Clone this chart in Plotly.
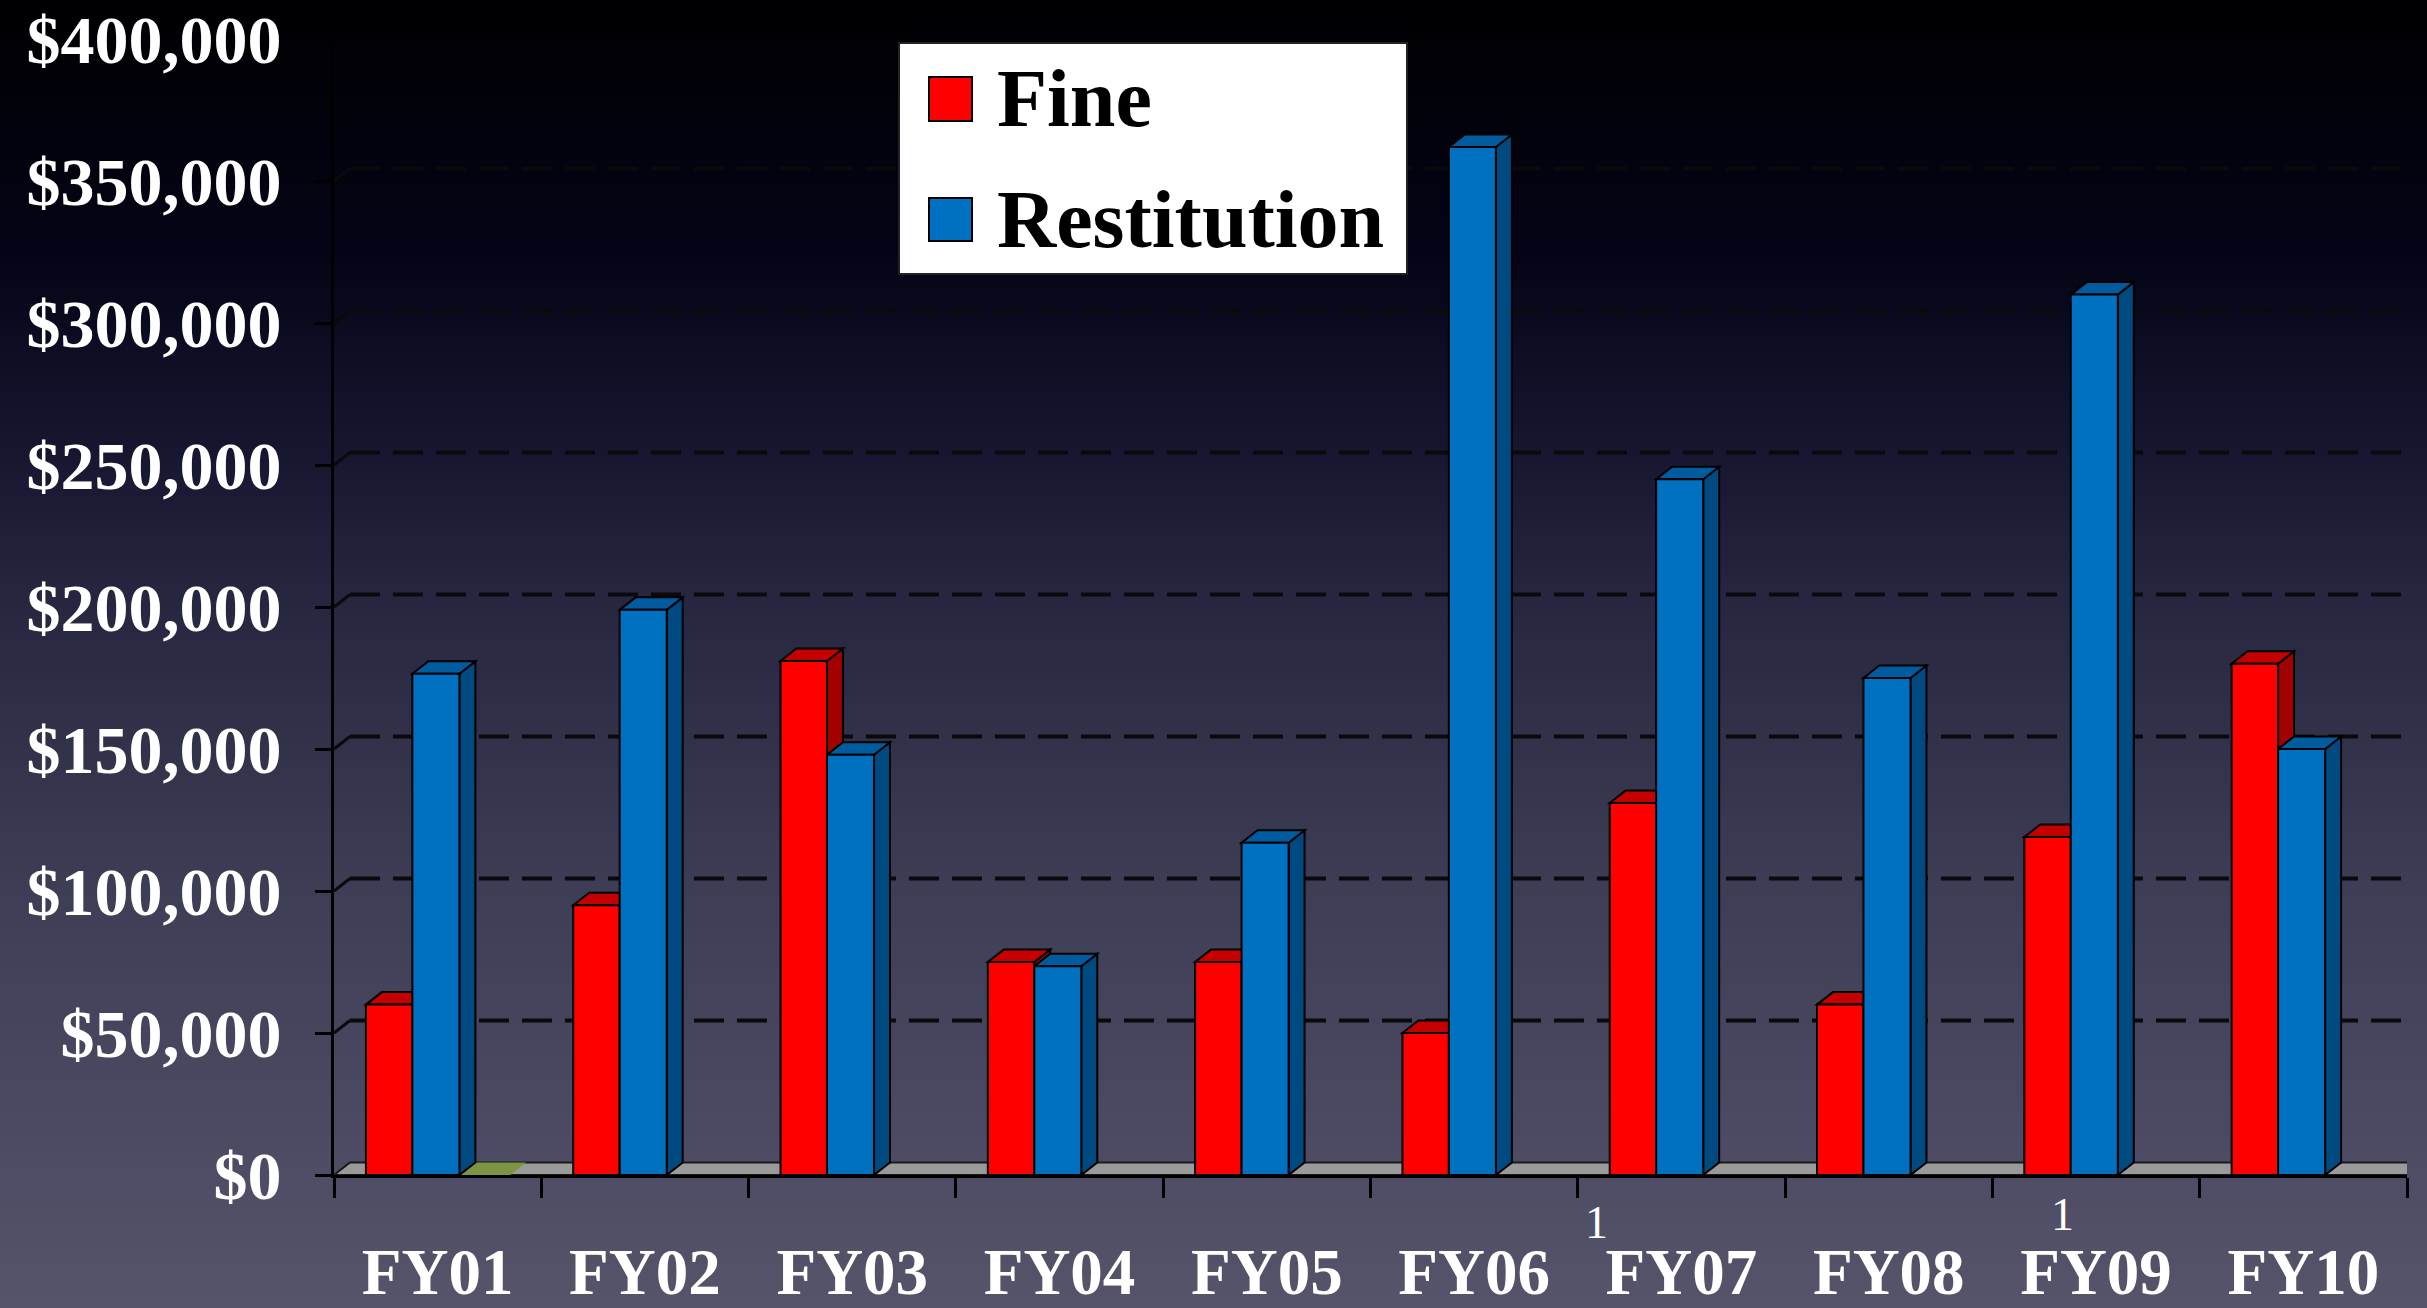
import plotly.graph_objects as go

# ---- data -------------------------------------------------------------
years = ["FY01", "FY02", "FY03", "FY04", "FY05", "FY06", "FY07", "FY08", "FY09", "FY10"]
fine = [60000, 95000, 181000, 75000, 75000, 50000, 131000, 60000, 119000, 180000]
restitution = [176500, 199000, 148000, 73500, 117000, 362000, 245000, 175000, 310000, 150000]
y_tick_values = [0, 50000, 100000, 150000, 200000, 250000, 300000, 350000, 400000]
y_tick_labels = ["$0", "$50,000", "$100,000", "$150,000", "$200,000",
                 "$250,000", "$300,000", "$350,000", "$400,000"]
footnotes = {"FY07": "1", "FY09": "1"}

# ---- geometry / style -------------------------------------------------
W, H = 2427, 1308
L, R, T, B = 334, 20, 39, 133
PW, PH = W - L - R, H - T - B
Y_MAX = 400000

DX = 0.077          # depth offset along x (category units)
DY = 4400           # depth offset along y (value units)
RED_OFF, RED_W = -0.346, 0.224
BLUE_OFF, BLUE_W = -0.122, 0.227

RED, RED_TOP, RED_SIDE = "#ff0000", "#c40000", "#a30000"
BLUE, BLUE_TOP, BLUE_SIDE = "#0070c0", "#005c9e", "#004a82"
FONT = "Liberation Serif"


def px_x(p):
    return (p - L) / PW


def px_y(p):
    return (H - B - p) / PH


def poly(pts):
    return "M " + " L ".join(f"{x},{y}" for x, y in pts) + " Z"


shapes = []

# background gradient (bands in paper coordinates)
stops = [(0, (0, 0, 2)), (250, (4, 4, 22)), (450, (22, 22, 48)), (600, (38, 38, 64)),
         (900, (62, 62, 86)), (1200, (79, 78, 102)), (1308, (85, 84, 106))]


def bg_color(py):
    for (y0, c0), (y1, c1) in zip(stops[:-1], stops[1:]):
        if y0 <= py <= y1:
            t = (py - y0) / (y1 - y0)
            return "rgb(%d,%d,%d)" % tuple(round(a + (b - a) * t) for a, b in zip(c0, c1))
    return "rgb(85,84,106)"


band = 8
for py in range(0, H, band):
    shapes.append(dict(type="rect", xref="paper", yref="paper", layer="below",
                       x0=px_x(-5), x1=px_x(W + 5), y0=px_y(py + band + 1), y1=px_y(py),
                       fillcolor=bg_color(py + band / 2), line=dict(width=0)))

n = len(years)
x_lo, x_hi = -0.5, n - 0.5

# back-wall dashed gridlines with their short wall connectors
for v in y_tick_values[1:-1]:
    shapes.append(dict(type="line", xref="x", yref="y", layer="below",
                       x0=x_lo + DX, x1=x_hi + DX, y0=v + DY, y1=v + DY,
                       line=dict(color="#0a0a0c", width=4, dash="30px,13px")))
    shapes.append(dict(type="line", xref="x", yref="y", layer="below",
                       x0=x_lo, x1=x_lo + DX, y0=v, y1=v + DY,
                       line=dict(color="#0a0a0c", width=3)))

# floor
shapes.append(dict(type="path", xref="x", yref="y", layer="between",
                   path=poly([(x_lo, 0), (x_hi, 0), (x_hi + DX, DY), (x_lo + DX, DY)]),
                   fillcolor="#9a9a9a", line=dict(color="#1a1a1a", width=2)))
# olive floor tint beside the first pair of bars
shapes.append(dict(type="path", xref="x", yref="y", layer="between",
                   path=poly([(0.105, 0), (0.35, 0), (0.35 + DX, DY), (0.105 + DX, DY)]),
                   fillcolor="#7d9444", line=dict(width=0)))

# 3-D top and side faces of the bars
for i in range(n):
    for val, off, wid, top_c, side_c in ((fine[i], RED_OFF, RED_W, RED_TOP, RED_SIDE),
                                         (restitution[i], BLUE_OFF, BLUE_W, BLUE_TOP, BLUE_SIDE)):
        x0, x1 = i + off, i + off + wid
        shapes.append(dict(type="path", xref="x", yref="y", layer="between",
                           path=poly([(x1, 0), (x1, val), (x1 + DX, val + DY), (x1 + DX, DY)]),
                           fillcolor=side_c, line=dict(color="black", width=2)))
        shapes.append(dict(type="path", xref="x", yref="y", layer="between",
                           path=poly([(x0, val), (x1, val), (x1 + DX, val + DY), (x0 + DX, val + DY)]),
                           fillcolor=top_c, line=dict(color="black", width=2)))

# legend box
shapes.append(dict(type="rect", xref="paper", yref="paper", layer="above",
                   x0=px_x(899), x1=px_x(1407), y0=px_y(274), y1=px_y(43),
                   fillcolor="white", line=dict(color="#222", width=2)))
for color, (ya, yb) in ((RED, (77, 121)), (BLUE, (198, 241))):
    shapes.append(dict(type="rect", xref="paper", yref="paper", layer="above",
                       x0=px_x(929), x1=px_x(972), y0=px_y(yb), y1=px_y(ya),
                       fillcolor=color, line=dict(color="black", width=2)))

annotations = [
    dict(text="Fine", xref="paper", yref="paper", x=px_x(995), y=px_y(98),
         xanchor="left", yanchor="middle", showarrow=False,
         font=dict(family=FONT, size=82, color="black", weight="bold")),
    dict(text="Restitution", xref="paper", yref="paper", x=px_x(995), y=px_y(219),
         xanchor="left", yanchor="middle", showarrow=False,
         font=dict(family=FONT, size=82, color="black", weight="bold")),
]

# footnote markers on the category labels
note_dx = {"FY07": -0.41, "FY09": -0.16}
note_py = {"FY07": 1222, "FY09": 1214}
for label, mark in footnotes.items():
    i = years.index(label)
    annotations.append(dict(text=mark, xref="x", yref="paper",
                            x=i + note_dx[label], y=px_y(note_py[label]),
                            xanchor="center", yanchor="middle", showarrow=False,
                            font=dict(family=FONT, size=46, color="white")))

fig = go.Figure()
fig.add_trace(go.Bar(name="Fine", x=list(range(n)), y=fine, offset=RED_OFF, width=RED_W,
                     marker=dict(color=RED, line=dict(color="black", width=2))))
fig.add_trace(go.Bar(name="Restitution", x=list(range(n)), y=restitution, offset=BLUE_OFF,
                     width=BLUE_W, marker=dict(color=BLUE, line=dict(color="black", width=2))))

fig.update_layout(
    width=W, height=H,
    margin=dict(l=L, r=R, t=T, b=B, autoexpand=False),
    paper_bgcolor="black", plot_bgcolor="rgba(0,0,0,0)",
    barmode="overlay", showlegend=False,
    shapes=shapes, annotations=annotations,
    xaxis=dict(range=[x_lo, x_hi], tickmode="array", tickvals=list(range(n)), ticktext=years,
               ticks="", showgrid=False, zeroline=False,
               showline=True, linecolor="black", linewidth=3,
               tickfont=dict(family=FONT, size=65, color="white", weight="bold"),
               ticklabelstandoff=38,
               minor=dict(tickmode="array", tickvals=[k - 0.5 for k in range(n + 1)],
                          ticks="outside", ticklen=20, tickwidth=3, tickcolor="black",
                          showgrid=False),
               fixedrange=True),
    yaxis=dict(range=[0, Y_MAX], tickmode="array", tickvals=y_tick_values, ticktext=y_tick_labels,
               ticks="outside", ticklen=16, tickwidth=3, tickcolor="black",
               showgrid=False, zeroline=False,
               showline=True, linecolor="black", linewidth=3,
               tickfont=dict(family=FONT, size=68, color="white", weight="bold"),
               ticklabelstandoff=20, automargin=False, fixedrange=True),
)

fig.write_html("out.html")
